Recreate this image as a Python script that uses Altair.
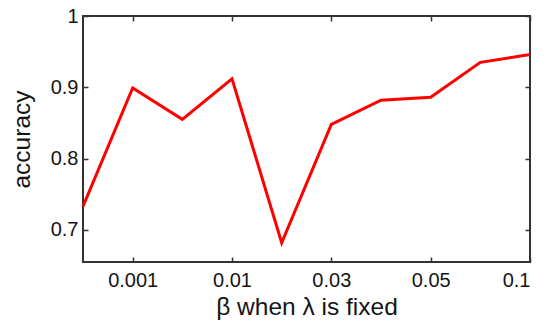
import altair as alt
import pandas as pd

# data
idx = [0, 1, 2, 3, 4, 5, 6, 7, 8, 9]
accuracy = [0.733, 0.899, 0.855, 0.912, 0.682, 0.848, 0.882, 0.886, 0.935, 0.946]
tick_pos = [1, 3, 5, 7, 9]
tick_labels = ["0.001", "0.01", "0.03", "0.05", "0.1"]
y_ticks = [0.7, 0.8, 0.9, 1.0]

df = pd.DataFrame({"i": idx, "acc": accuracy})

label_js = "[" + ",".join("'" + s + "'" for s in tick_labels) + "]"
pos_js = "[" + ",".join(str(p) for p in tick_pos) + "]"
x_label_expr = f"{label_js}[indexof({pos_js}, datum.value)]"
y_label_expr = "datum.value == 1 ? '1' : format(datum.value, '.1f')"

FONT = "Liberation Sans"
TXT = "#151515"
TICK = "#333333"
xscale = alt.Scale(domain=[0, 9], nice=False, zero=False)
yscale = alt.Scale(domain=[0.655, 1.0], nice=False, zero=False)

line = alt.Chart(df).mark_line(color="#ff0000", strokeWidth=3).encode(
    x=alt.X("i:Q", scale=xscale,
            axis=alt.Axis(values=tick_pos, labelExpr=x_label_expr, orient="bottom",
                          offset=-5, tickSize=5, tickWidth=1.5, domain=False, grid=False,
                          labelPadding=8, labelFontSize=20, labelFont=FONT,
                          labelColor=TXT, tickColor=TICK,
                          title="β when λ is fixed", titleFont=FONT, titleFontSize=24.5,
                          titleFontWeight="normal", titleColor=TXT, titlePadding=5)),
    y=alt.Y("acc:Q", scale=yscale,
            axis=alt.Axis(values=y_ticks, labelExpr=y_label_expr, orient="left",
                          offset=-5, tickSize=5, tickWidth=1.5, domain=False, grid=False,
                          labelPadding=5, labelFontSize=20, labelFont=FONT,
                          labelColor=TXT, tickColor=TICK,
                          title="accuracy", titleFont=FONT, titleFontSize=24.5,
                          titleFontWeight="normal", titleColor=TXT, titlePadding=16)),
)

ticks2 = alt.Chart(df).mark_line(opacity=0).encode(
    x=alt.X("i:Q", scale=xscale,
            axis=alt.Axis(values=tick_pos, orient="top", offset=-5, tickSize=5,
                          tickWidth=1.5, domain=False, grid=False, labels=False,
                          title=None, tickColor=TICK)),
    y=alt.Y("acc:Q", scale=yscale,
            axis=alt.Axis(values=y_ticks, orient="right", offset=-5, tickSize=5,
                          tickWidth=1.5, domain=False, grid=False, labels=False,
                          title=None, tickColor=TICK)),
)

chart = alt.layer(line, ticks2).resolve_axis(x="independent", y="independent").properties(
    width=447, height=246,
    autosize=alt.AutoSizeParams(type="none"),
    padding={"left": 75, "top": 8, "right": 11, "bottom": 59},
).configure(background="white", view=alt.ViewConfig(stroke="#333333", strokeWidth=2))

chart.save("out.html", embed_options={"renderer": "svg", "actions": False})
